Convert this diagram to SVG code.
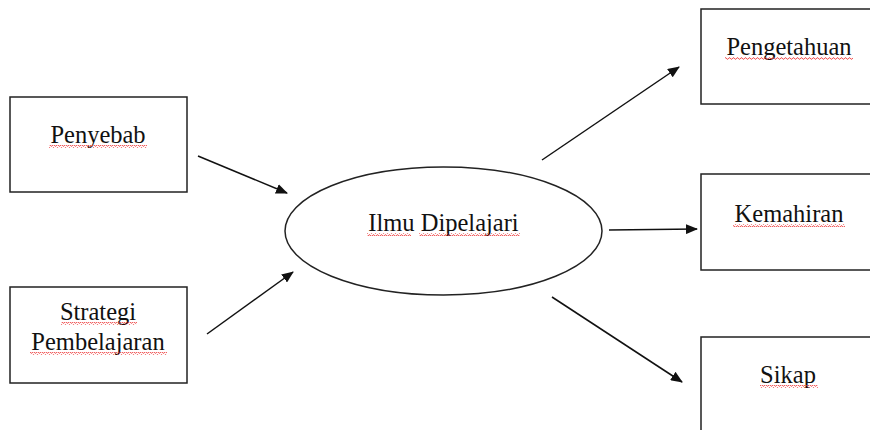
<svg xmlns="http://www.w3.org/2000/svg" width="870" height="430" viewBox="0 0 870 430">
<style>
.box{fill:#fff;stroke:#222;stroke-width:1.5}
.lbl{font-family:"Liberation Serif","Times New Roman",serif;font-size:24.5px;fill:#111;text-anchor:middle}
.conn{stroke:#111;stroke-width:1.5;fill:none;marker-end:url(#ah)}
.sq{fill:url(#wave)}
</style>
<defs>
<marker id="ah" viewBox="0 0 12 10" refX="11" refY="5" markerWidth="12" markerHeight="10" markerUnits="userSpaceOnUse" orient="auto">
<path d="M0,0 L12,5 L0,10 Z" fill="#111"/>
</marker>
<pattern id="wave" width="4" height="3" patternUnits="userSpaceOnUse">
<path d="M0,2.2 L1,0.8 L2,0.8 L3,2.2 L4,2.2" stroke="#e33" stroke-width="0.8" fill="none"/>
</pattern>
</defs>
<rect width="870" height="430" fill="#fff"/>
<g id="penyebab">
<rect class="box" x="10" y="97" width="177" height="95"/>
<text class="lbl" x="98" y="143">Penyebab</text>
<rect class="sq" x="49" y="145" width="98" height="3"/>
</g>
<g id="strategi">
<rect class="box" x="10" y="287" width="177" height="96"/>
<text class="lbl" x="98" y="320">Strategi</text>
<rect class="sq" x="61" y="322" width="76" height="3"/>
<text class="lbl" x="98" y="350">Pembelajaran</text>
<rect class="sq" x="30" y="352" width="137" height="3"/>
</g>
<g id="ilmu">
<ellipse cx="443.5" cy="231" rx="158.5" ry="64" fill="#fff" stroke="#222" stroke-width="1.5"/>
<text class="lbl" x="443.5" y="231">Ilmu Dipelajari</text>
<rect class="sq" x="367" y="233" width="44" height="3"/>
<rect class="sq" x="419" y="233" width="101" height="3"/>
</g>
<g id="pengetahuan">
<rect class="box" x="701" y="9" width="180" height="95"/>
<text class="lbl" x="789" y="55">Pengetahuan</text>
<rect class="sq" x="725" y="57" width="128" height="3"/>
</g>
<g id="kemahiran">
<rect class="box" x="701" y="174" width="180" height="96"/>
<text class="lbl" x="789" y="222">Kemahiran</text>
<rect class="sq" x="733" y="224" width="112" height="3"/>
</g>
<g id="sikap">
<rect class="box" x="701" y="337" width="180" height="100"/>
<text class="lbl" x="788" y="383">Sikap</text>
<rect class="sq" x="760" y="385" width="58" height="3"/>
</g>
<g id="connectors">
<line class="conn" x1="198" y1="156" x2="287" y2="193"/>
<line class="conn" x1="207" y1="334" x2="293" y2="272"/>
<line class="conn" x1="542" y1="160" x2="679" y2="67"/>
<line class="conn" x1="609" y1="230" x2="697" y2="229"/>
<line class="conn" x1="552" y1="297" x2="682" y2="382"/>
</g>
</svg>
